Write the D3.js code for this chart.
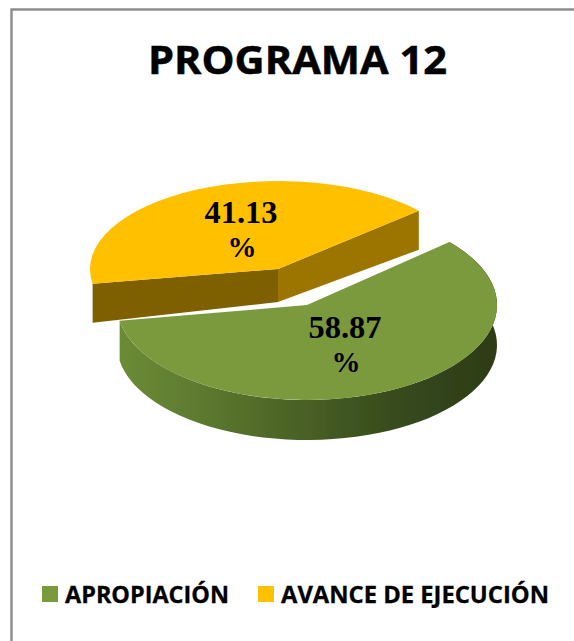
<!DOCTYPE html>
<html><head><meta charset="utf-8">
<script src="https://d3js.org/d3.v7.min.js"></script>
<style>html,body{margin:0;padding:0;background:#fff}svg{display:block}</style></head>
<body><div id="c"></div>
<script>
const categories=["APROPIACIÓN","AVANCE DE EJECUCIÓN"];
const values=[58.87,41.13];
const labels=["58.87","41.13"];
const topColors=["#7A9A3C","#FFC000"];
const W=574,H=641;
const svg=d3.select("#c").append("svg").attr("width",W).attr("height",H);
const defs=svg.append("defs");
defs.append("filter").attr("id","soft").append("feGaussianBlur").attr("stdDeviation",0.6);
const g0=defs.append("linearGradient").attr("id","wallG");
[[0,"#6C8C36"],[0.2,"#5F7B30"],[0.48,"#4A6126"],[0.62,"#3F5420"],[0.8,"#34461B"],[1,"#2D3C17"]]
 .forEach(s=>g0.append("stop").attr("offset",s[0]).attr("stop-color",s[1]));

svg.append("path").attr("d",`M11.5,${H}V9.5H${W}`).attr("fill","none").attr("stroke","#8C8C8C").attr("stroke-width",2.4);
svg.append("text").attr("x",148).attr("y",74).attr("textLength",299).attr("lengthAdjust","spacingAndGlyphs")
 .attr("font-family","Open Sans").attr("font-weight",700).attr("font-size",39)
 .attr("stroke","#000").attr("stroke-width",0.5).attr("fill","#000").text("PROGRAMA 12");

const start=48.5*Math.PI/180;
const arcs=d3.pie().sort(null).startAngle(start).endAngle(start+2*Math.PI)(values);
const geom=[{cx:307,cy:305,rx:190,ry:95,depth:40,apex:40},{cx:278,cy:269,rx:188,ry:88,depth:39,apex:33}];
const pt=(a,g,dy=0)=>[g.cx+g.rx*Math.sin(a),g.cy-g.ry*Math.cos(a)+dy];
const line=d3.line();
const samples=(a0,a1)=>d3.range(0,61).map(i=>a0+(a1-a0)*i/60);
const scene=svg.append("g").attr("filter","url(#soft)");

function topPath(sel,d,g,color){
  sel.append("path")
   .attr("transform",`translate(${g.cx},${g.cy}) scale(1,${g.ry/g.rx})`)
   .attr("d",d3.arc().innerRadius(0).outerRadius(g.rx)(d)).attr("fill",color);
}
function cutFace(sel,a,g,color){
  const c=[g.cx,g.cy],p=pt(a,g);
  sel.append("path").attr("d",line([c,p,[p[0],p[1]+g.depth],[c[0],c[1]+g.apex]])+"Z").attr("fill",color);
}
// yellow wedge drawn first (behind)
{
  const d=arcs[1],g=geom[1],s=scene.append("g");
  cutFace(s,d.endAngle,g,"#9C7500");
  cutFace(s,d.startAngle,g,"#7F6000");
  topPath(s,d,g,topColors[1]);
}
// green wedge
{
  const d=arcs[0],g=geom[0],s=scene.append("g");
  const as=samples(d.startAngle,d.endAngle);
  const upper=as.map(a=>pt(a,g));
  const lower=as.map(a=>pt(a,g,g.depth)).reverse();
  s.append("path").attr("d",line(upper.concat(lower))+"Z").attr("fill","url(#wallG)");
  g0.attr("gradientUnits","userSpaceOnUse").attr("x1",g.cx-g.rx).attr("x2",g.cx+g.rx).attr("y1",0).attr("y2",0);
  topPath(s,d,g,topColors[0]);
}
// data labels
const labelPos=[[345,338,372],[241,223,257]];
labels.forEach((t,i)=>{
  const p=labelPos[i];
  svg.append("text").attr("x",p[0]).attr("y",p[1]).attr("text-anchor","middle")
   .attr("font-family","Liberation Serif").attr("font-weight",700).attr("font-size",31)
   .attr("textLength",73).attr("lengthAdjust","spacingAndGlyphs").text(t);
  svg.append("text").attr("x",p[0]+1).attr("y",p[2]).attr("text-anchor","middle")
   .attr("font-family","Liberation Serif").attr("font-weight",700).attr("font-size",29).text("%");
});
// legend
const legendX=[42,258],legendW=[164,268];
categories.forEach((c,i)=>{
  svg.append("rect").attr("x",legendX[i]).attr("y",586).attr("width",16).attr("height",16).attr("fill",topColors[i]);
  svg.append("text").attr("x",legendX[i]+23).attr("y",603).attr("textLength",legendW[i]).attr("lengthAdjust","spacingAndGlyphs")
   .attr("font-family","Open Sans").attr("font-weight",700).attr("font-size",24)
   .attr("stroke","#000").attr("stroke-width",0.3).text(c);
});
</script></body></html>
